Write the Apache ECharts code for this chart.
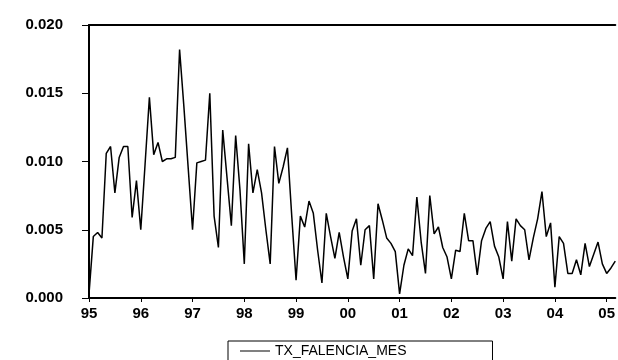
<!DOCTYPE html>
<html>
<head>
<meta charset="utf-8">
<script src="https://cdn.jsdelivr.net/npm/echarts@6/dist/echarts.min.js"></script>
<style>
  html, body { margin: 0; padding: 0; background: #fff; }
  #chart { width: 618px; height: 360px; }
</style>
</head>
<body>
<div id="chart"></div>
<script>
// tick labels on x axis (one per january)
var yearLabels = ['95', '96', '97', '98', '99', '00', '01', '02', '03', '04', '05'];

// monthly values, 1995M01 .. 2005M03
var txFalenciaMes = [
  // 1995
  0.0003, 0.0045, 0.0048, 0.0044, 0.0106, 0.0111, 0.0077, 0.0103, 0.0111, 0.0111, 0.0059, 0.0086,
  // 1996
  0.0050, 0.0098, 0.0147, 0.0105, 0.0114, 0.0100, 0.0102, 0.0102, 0.0103, 0.0182, 0.0140, 0.0095,
  // 1997
  0.0050, 0.0099, 0.0100, 0.0101, 0.0150, 0.0060, 0.0037, 0.0123, 0.0088, 0.0053, 0.0119, 0.0079,
  // 1998
  0.0025, 0.0113, 0.0077, 0.0094, 0.0077, 0.0050, 0.0025, 0.0111, 0.0084, 0.0096, 0.0110, 0.0060,
  // 1999
  0.0013, 0.0060, 0.0052, 0.0071, 0.0062, 0.0035, 0.0011, 0.0062, 0.0045, 0.0029, 0.0048, 0.0030,
  // 2000
  0.0014, 0.0049, 0.0058, 0.0024, 0.0050, 0.0053, 0.0014, 0.0069, 0.0057, 0.0044, 0.0040, 0.0034,
  // 2001
  0.0003, 0.0024, 0.0036, 0.0031, 0.0074, 0.0041, 0.0018, 0.0075, 0.0047, 0.0052, 0.0037, 0.0030,
  // 2002
  0.0014, 0.0035, 0.0034, 0.0062, 0.0042, 0.0042, 0.0017, 0.0042, 0.0051, 0.0056, 0.0038, 0.0030,
  // 2003
  0.0014, 0.0056, 0.0027, 0.0058, 0.0053, 0.0050, 0.0028, 0.0044, 0.0058, 0.0078, 0.0045, 0.0055,
  // 2004
  0.0008, 0.0045, 0.0040, 0.0018, 0.0018, 0.0028, 0.0017, 0.0040, 0.0023, 0.0032, 0.0041, 0.0025,
  // 2005
  0.0018, 0.0022, 0.0027
];

// month categories, label shown only on january
var months = [];
for (var i = 0; i < txFalenciaMes.length; i++) {
  months.push(yearLabels[Math.floor(i / 12)] + 'M' + ((i % 12) + 1));
}

var chartDom = document.getElementById('chart');
var myChart = echarts.init(chartDom, null, { renderer: 'canvas' });
var option;

option = {
  animation: false,
  backgroundColor: '#fff',
  textStyle: { fontFamily: 'Liberation Sans, Arial, sans-serif' },
  grid: {
    left: 89,
    right: 0,
    top: 25,
    bottom: 62,
    show: false
  },
  legend: {
    top: 341,
    left: 228,
    orient: 'horizontal',
    padding: [3, 86, 8, 12],
    borderColor: '#000',
    borderWidth: 1,
    icon: 'rect',
    itemWidth: 30,
    itemHeight: 1,
    itemStyle: { color: '#000' },
    textStyle: { color: '#000', fontSize: 14, fontFamily: 'Liberation Sans, Arial, sans-serif' },
    data: ['TX_FALENCIA_MES']
  },
  xAxis: [
    {
      type: 'category',
      data: months,
      boundaryGap: false,
      axisLine: { lineStyle: { color: '#000', width: 2 } },
      axisTick: { show: true, interval: 11, length: 4, lineStyle: { color: '#000', width: 1 } },
      axisLabel: {
        interval: 11,
        margin: 8,
        color: '#000',
        fontSize: 15,
        fontWeight: 'bold',
        formatter: function (v) { return v.split('M')[0]; }
      },
      splitLine: { show: false }
    },
    {
      // top frame line only
      type: 'category',
      position: 'top',
      data: months,
      boundaryGap: false,
      axisLine: { lineStyle: { color: '#000', width: 2 } },
      axisTick: { show: false },
      axisLabel: { show: false },
      splitLine: { show: false }
    }
  ],
  yAxis: {
    type: 'value',
    min: 0,
    max: 0.02,
    interval: 0.005,
    axisLine: { show: true, lineStyle: { color: '#000', width: 2 } },
    axisTick: { show: true, length: 7, lineStyle: { color: '#000', width: 1 } },
    axisLabel: {
      margin: 26,
      color: '#000',
      fontSize: 15,
      fontWeight: 'bold',
      formatter: function (v) { return v.toFixed(3); }
    },
    splitLine: { show: false }
  },
  series: [
    {
      name: 'TX_FALENCIA_MES',
      type: 'line',
      data: txFalenciaMes,
      symbol: 'none',
      lineStyle: { color: '#000', width: 1.5 },
      itemStyle: { color: '#000' }
    }
  ]
};

myChart.setOption(option);
</script>
</body>
</html>
